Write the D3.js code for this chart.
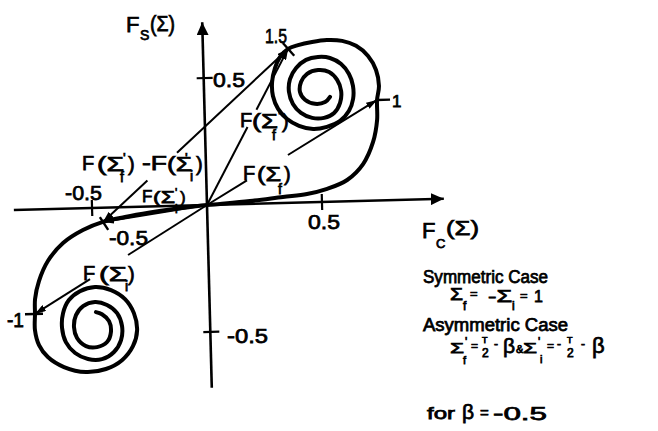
<!DOCTYPE html>
<html>
<head>
<meta charset="utf-8">
<script src="https://cdn.jsdelivr.net/npm/d3@7"></script>
<style>
  html, body { margin: 0; padding: 0; background: #fff; }
  svg { display: block; }
  text { font-family: "Liberation Sans", Arial, sans-serif; fill: #000; stroke: #000; stroke-width: 0.75px; }
</style>
</head>
<body>
<svg id="chart" width="658" height="431"></svg>
<script>
// Cornu spiral F(Σ) = Fc(Σ) + i·Fs(Σ), as [Fc, Fs] pairs.
// Right arm: Σ = 0 … 1
const rightArm = [[0,0],[0.057,0.003],[0.187,0.011],[0.331,0.024],[0.436,0.033],[0.524,0.051],[0.612,0.084],[0.683,0.145],[0.729,0.231],[0.749,0.317],[0.751,0.396]];
// Upper coil: Σ > 1, winding in towards (0.5, 0.5)
const upperCoil = [[0.761,0.451],[0.750,0.514],[0.717,0.570],[0.666,0.611],[0.606,0.632],[0.540,0.637],[0.475,0.631],[0.414,0.620],[0.370,0.606],[0.334,0.575],[0.311,0.532],[0.297,0.478],[0.299,0.422],[0.320,0.371],[0.358,0.330],[0.409,0.302],[0.470,0.288],[0.530,0.295],[0.588,0.317],[0.628,0.356],[0.647,0.402],[0.648,0.454],[0.632,0.501],[0.599,0.541],[0.551,0.566],[0.499,0.571],[0.447,0.561],[0.403,0.530],[0.375,0.487],[0.369,0.437],[0.385,0.389],[0.419,0.353],[0.467,0.332],[0.519,0.331],[0.563,0.349],[0.590,0.388],[0.596,0.435],[0.580,0.479],[0.546,0.511],[0.498,0.520],[0.450,0.506],[0.423,0.475],[0.417,0.435],[0.438,0.404],[0.481,0.387],[0.525,0.393],[0.547,0.413]];
// Left arm: Σ = 0 … -1
const leftArm = [[0,0],[-0.074,-0.006],[-0.131,-0.011],[-0.249,-0.024],[-0.358,-0.039],[-0.454,-0.056],[-0.542,-0.086],[-0.630,-0.135],[-0.698,-0.204],[-0.739,-0.282],[-0.758,-0.352],[-0.760,-0.411]];
// Lower coil: Σ < -1, winding in towards (-0.5, -0.5)
const lowerCoil = [[-0.762,-0.474],[-0.746,-0.534],[-0.709,-0.582],[-0.640,-0.623],[-0.545,-0.645],[-0.458,-0.635],[-0.387,-0.602],[-0.338,-0.548],[-0.318,-0.485],[-0.330,-0.418],[-0.367,-0.362],[-0.427,-0.325],[-0.496,-0.311],[-0.562,-0.326],[-0.611,-0.360],[-0.638,-0.411],[-0.644,-0.469],[-0.629,-0.525],[-0.590,-0.569],[-0.535,-0.594],[-0.474,-0.596],[-0.421,-0.569],[-0.389,-0.523],[-0.383,-0.468],[-0.403,-0.416],[-0.446,-0.383],[-0.498,-0.370],[-0.550,-0.385],[-0.582,-0.420],[-0.592,-0.467],[-0.580,-0.510],[-0.542,-0.543],[-0.494,-0.548],[-0.450,-0.529],[-0.432,-0.490],[-0.439,-0.447],[-0.469,-0.419],[-0.495,-0.410]];

// Marked Σ values on the curve
const sigmaLabels = ["1.5", "1", "-0.5", "-1"];
const sigmaFc = [0.370, 0.751, -0.454, -0.760];
const sigmaFs = [0.606, 0.396, -0.056, -0.411];

// Vectors drawn between marked points ("0" = origin)
const vectorFrom = ["0", "0", "0", "0", "-0.5"];
const vectorTo   = ["1", "1.5", "-1", "-0.5", "1.5"];

// Axis ticks
const xTicks = [-0.5, 0.5];
const yTicks = [-0.5, 0.5];
const xTickLabels = ["-0.5", "0.5"];
const yTickLabels = ["-0.5", "0.5"];
const xExtent = [-0.84, 1.03];
const yExtent = [-0.72, 0.72];

// ---------------------------------------------------------------------------
const ox = 207, oy = 205;
const x = d3.scaleLinear().domain([0, 1]).range([ox, ox + 230]);
const y = d3.scaleLinear().domain([0, 1]).range([oy, oy - 254]);

const svg = d3.select("#chart");
const defs = svg.append("defs");
defs.append("marker")
  .attr("id", "head").attr("viewBox", "0 0 11 7")
  .attr("refX", 11).attr("refY", 3.5)
  .attr("markerWidth", 11).attr("markerHeight", 7)
  .attr("markerUnits", "userSpaceOnUse").attr("orient", "auto-start-reverse")
  .append("path").attr("d", "M0,0 L11,3.5 L0,7 Z").attr("fill", "#000");
defs.append("marker")
  .attr("id", "axisHead").attr("viewBox", "0 0 13 12")
  .attr("refX", 13).attr("refY", 6)
  .attr("markerWidth", 13).attr("markerHeight", 12)
  .attr("markerUnits", "userSpaceOnUse").attr("orient", "auto")
  .append("path").attr("d", "M0,0 L13,6 L0,12 Z").attr("fill", "#000");

// the whole drawing sits slightly turned on the page
const g = svg.append("g").attr("transform", `rotate(-1.5 ${ox} ${oy})`);

// axes
g.append("line")
  .attr("x1", x(xExtent[0])).attr("y1", y(0))
  .attr("x2", x(xExtent[1])).attr("y2", y(0))
  .attr("stroke", "#000").attr("stroke-width", 2.6)
  .attr("marker-end", "url(#axisHead)");
g.append("line")
  .attr("x1", x(0)).attr("y1", y(yExtent[0]))
  .attr("x2", x(0)).attr("y2", y(yExtent[1]))
  .attr("stroke", "#000").attr("stroke-width", 2.6)
  .attr("marker-end", "url(#axisHead)");

// tick crosses
g.selectAll(".xt").data(xTicks).join("line")
  .attr("x1", d => x(d)).attr("x2", d => x(d))
  .attr("y1", y(0) - 8).attr("y2", y(0) + 8)
  .attr("stroke", "#000").attr("stroke-width", 2.2);
g.selectAll(".yt").data(yTicks).join("line")
  .attr("y1", d => y(d)).attr("y2", d => y(d))
  .attr("x1", x(0) - 7).attr("x2", x(0) + 9)
  .attr("stroke", "#000").attr("stroke-width", 2.2);

// the spiral
const spiral = lowerCoil.slice().reverse()
  .concat(leftArm.slice().reverse())
  .concat(rightArm.slice(1))
  .concat(upperCoil);
const line = d3.line().x(d => x(d[0])).y(d => y(d[1])).curve(d3.curveCatmullRom.alpha(0.5));
g.append("path").attr("d", line(spiral))
  .attr("fill", "none").attr("stroke", "#000").attr("stroke-width", 4)
  .attr("stroke-linejoin", "round").attr("stroke-linecap", "round");

// point lookup
function pt(name) {
  if (name === "0") return [0, 0];
  const i = sigmaLabels.indexOf(name);
  return [sigmaFc[i], sigmaFs[i]];
}

// vectors; gaps leave room for their labels
const vectorGaps = [[0.235, 0.476], [0.50, 0.61], [0.459, 0.68], null, [0.24, 0.40]];
const vectorStartHead = [false, false, false, false, true];
vectorFrom.forEach((f, k) => {
  const a = pt(f), b = pt(vectorTo[k]);
  const P = t => [x(a[0] + (b[0] - a[0]) * t), y(a[1] + (b[1] - a[1]) * t)];
  const pieces = vectorGaps[k] ? [[0, vectorGaps[k][0]], [vectorGaps[k][1], 1]] : [[0, 1]];
  pieces.forEach(([t0, t1]) => {
    const p0 = P(t0), p1 = P(t1);
    const l = g.append("line")
      .attr("x1", p0[0]).attr("y1", p0[1]).attr("x2", p1[0]).attr("y2", p1[1])
      .attr("stroke", "#000").attr("stroke-width", 2);
    if (t1 === 1) l.attr("marker-end", "url(#head)");
    if (t0 === 0 && vectorStartHead[k]) l.attr("marker-start", "url(#head)");
  });
});

// small marks across the curve at the labelled Σ
const markOffsets = [[[-5, -6], [6, 7]], [[0, 0], [13, 0]], [[-3, -5], [5, 8]], [[-10, 0], [8, 0]]];
sigmaLabels.forEach((s, i) => {
  const px = x(sigmaFc[i]), py = y(sigmaFs[i]);
  const [a, b] = markOffsets[i];
  g.append("line")
    .attr("x1", px + a[0]).attr("y1", py + a[1]).attr("x2", px + b[0]).attr("y2", py + b[1])
    .attr("stroke", "#000").attr("stroke-width", 2.4);
});

// lettering: [text, x, baseline, size, width]
function put(parts) {
  parts.forEach(([t, px, py, fs, w]) => {
    const el = svg.append("text").attr("x", px).attr("y", py).attr("font-size", fs).text(t);
    if (w) el.attr("textLength", w).attr("lengthAdjust", "spacingAndGlyphs");
  });
}

// axis titles
put([["F", 126, 32, 22], ["S", 140, 40, 14], ["(Σ)", 150, 31, 22, 25]]);
put([["F", 422, 238, 22], ["C", 436, 248, 13], ["(Σ)", 446, 235, 21, 33]]);

// tick labels
put([
  [yTickLabels[1], 213, 87, 21, 32],
  [yTickLabels[0], 227, 343, 21, 41],
  [xTickLabels[1], 308, 229, 21, 32],
  [xTickLabels[0], 65, 200, 21, 37]
]);

// Σ labels on the curve
put([
  [sigmaLabels[0], 265, 43, 21, 22],
  [sigmaLabels[1], 392, 107, 17],
  [sigmaLabels[3], 7, 327, 20, 17],
  [sigmaLabels[2], 109, 245, 21, 39]
]);

// vector labels
put([["F", 240, 127, 20], ["(Σ", 252, 128, 20, 26], ["'", 278, 121, 15], [")", 282, 128, 20], ["f", 272, 140, 14]]);
put([["F", 243, 180, 20], ["(Σ", 257, 181, 20, 24], [")", 284, 181, 20], ["f", 278, 194, 14]]);
put([["F", 82, 170, 20], ["(Σ", 97, 171, 20, 27], ["'", 123, 163, 14], [")", 128, 171, 20], ["f", 120, 182, 14],
     ["-F", 142, 170, 20, 25], ["(Σ", 167, 171, 20, 25], ["'", 185, 163, 14], [")", 196, 171, 20], ["i", 190, 181, 14]]);
put([["F", 142, 202, 17], ["(Σ", 153, 203, 17, 22], ["'", 175, 197, 12], [")", 180, 203, 17], ["i", 175, 213, 12]]);
put([["F", 83, 280, 20], ["(Σ", 99, 281, 20, 28], [")", 128, 281, 20], ["i", 125, 291, 14]]);

// case notes
put([["Symmetric Case", 423, 283, 18, 125]]);
put([["Σ", 450, 300, 16, 13], ["f", 463, 310, 12], ["=", 470, 298, 13], ["-Σ", 488, 302, 16, 24], ["i", 512, 310, 12], ["=", 520, 300, 13], ["1", 534, 302, 16]]);
put([["Asymmetric Case", 423, 331, 18, 145]]);
put([["Σ", 450, 353, 15, 14], ["'", 465, 346, 12], ["f", 463, 364, 11], ["=", 471, 350, 12], ["T", 482, 343, 9], ["2", 482, 357, 12],
     ["-", 494, 348, 12], ["β", 503, 353, 21], ["&", 516, 353, 11], ["Σ", 523, 353, 15, 14], ["'", 538, 346, 12], ["i", 540, 363, 11],
     ["=", 547, 350, 12], ["-", 557, 348, 12], ["T", 567, 343, 9], ["2", 567, 357, 12], ["-", 581, 348, 12], ["β", 592, 353, 22]]);
put([["for", 427, 419, 17, 28], ["β", 462, 419, 21], ["=", 480, 418, 15], ["-0.5", 493, 420, 19, 54]]);
</script>
</body>
</html>
